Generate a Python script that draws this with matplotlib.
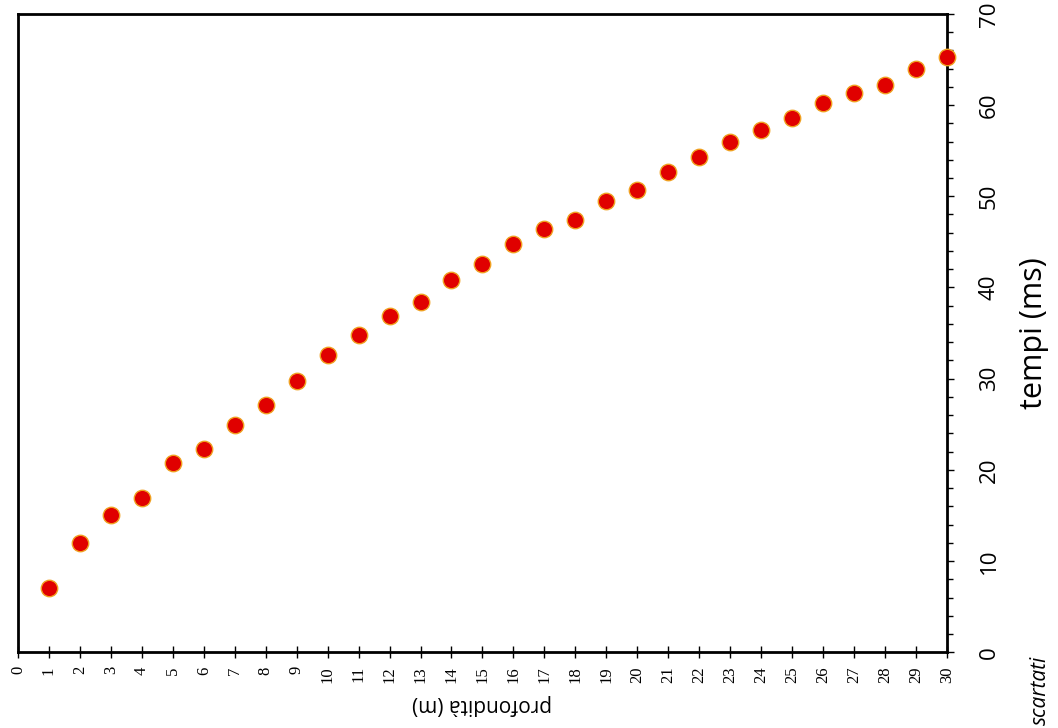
import numpy as np
from matplotlib import pyplot as plt
from matplotlib.ticker import MultipleLocator

# profondita (m) e tempi (ms)
profondita = [1, 2, 3, 4, 5, 6, 7, 8, 9, 10, 11, 12, 13, 14, 15,
              16, 17, 18, 19, 20, 21, 22, 23, 24, 25, 26, 27, 28, 29, 30]
tempi = [7.0, 12.0, 15.1, 16.9, 20.7, 22.3, 24.9, 27.1, 29.7, 32.6,
         34.8, 36.9, 38.4, 40.8, 42.6, 44.8, 46.4, 47.4, 49.5, 50.7,
         52.7, 54.3, 55.9, 57.3, 58.6, 60.2, 61.3, 62.2, 64.0, 65.3]

fig = plt.figure(figsize=(10.58, 7.28), dpi=100)
ax = fig.add_axes([0.017, 0.104, 0.878, 0.877])

ax.scatter(profondita, tempi, s=140, color="#e00000", edgecolors="#f0a020",
           linewidths=1.0, zorder=3, clip_on=False)

ax.set_xlim(0, 30)
ax.set_ylim(0, 70)

for s in ax.spines.values():
    s.set_linewidth(2)

# asse profondita
ax.xaxis.set_major_locator(MultipleLocator(1))
ax.tick_params(axis="x", direction="inout", length=8, width=1, pad=6)
for lab in ax.get_xticklabels():
    lab.set_rotation(90)
    lab.set_fontfamily("Liberation Serif")
    lab.set_fontsize(12)
ax.set_xlabel("profondità (m)", rotation=180, fontsize=15,
              fontfamily="Open Sans", labelpad=8)

# asse tempi a destra
ax.yaxis.tick_right()
ax.yaxis.set_label_position("right")
ax.yaxis.set_major_locator(MultipleLocator(10))
ax.yaxis.set_minor_locator(MultipleLocator(2))
ax.tick_params(axis="y", which="both", direction="out", left=False, right=True,
               width=1, pad=18)
ax.tick_params(axis="y", which="major", length=5)
ax.tick_params(axis="y", which="minor", length=4)
for lab in ax.get_yticklabels():
    lab.set_rotation(90)
    lab.set_fontfamily("Open Sans")
    lab.set_fontsize(16)
    lab.set_va("center")
ax.set_ylabel("tempi (ms)", rotation=90, fontsize=22, fontfamily="Open Sans",
              labelpad=14)

fig.text(0.983, 0.004, "scartati", rotation=90, ha="center", va="bottom",
         fontsize=15, fontstyle="italic", fontfamily="Open Sans")

fig.savefig("out.png", dpi=100)
